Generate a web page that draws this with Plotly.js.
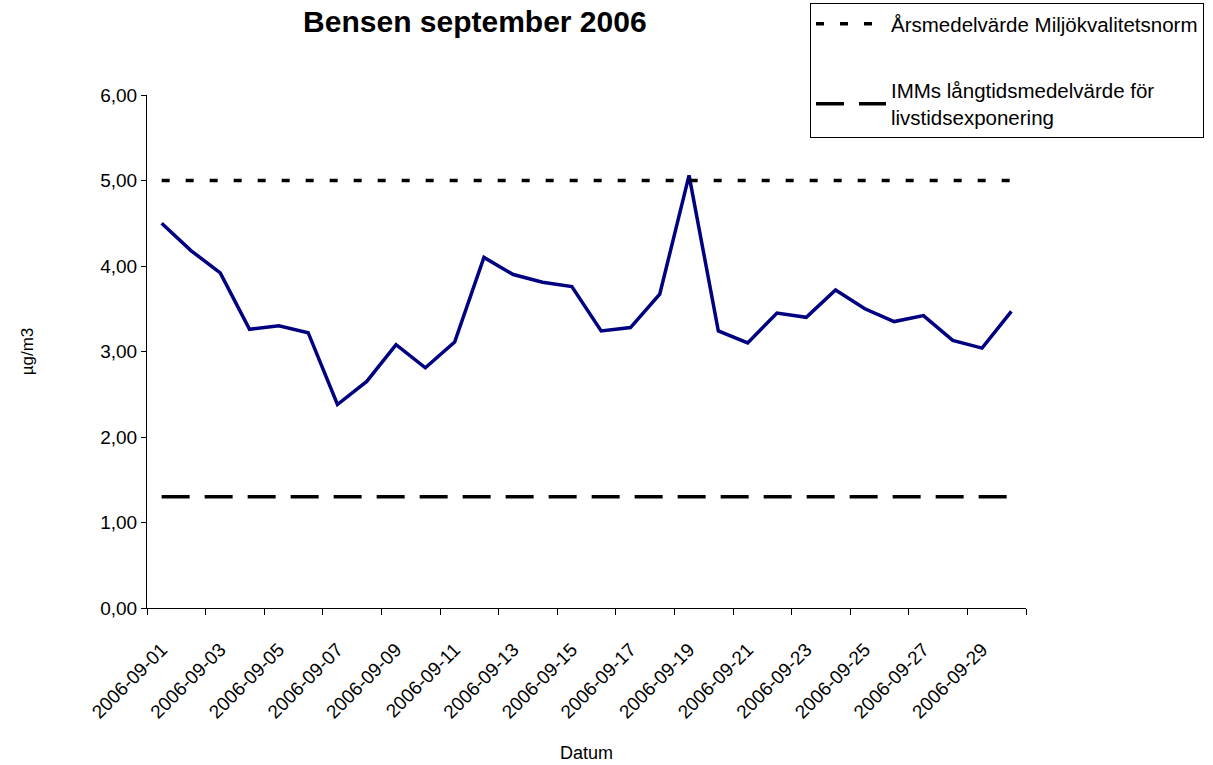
<!DOCTYPE html>
<html>
<head>
<meta charset="utf-8">
<script src="https://cdn.plot.ly/plotly-3.0.1.min.js"></script>
<style>
  html, body { margin: 0; padding: 0; background: #ffffff; }
  #chart { width: 1213px; height: 765px; }
</style>
</head>
<body>
<div id="chart"></div>
<script>
// ---- Data ----
const dates = [
  "2006-09-01","2006-09-02","2006-09-03","2006-09-04","2006-09-05",
  "2006-09-06","2006-09-07","2006-09-08","2006-09-09","2006-09-10",
  "2006-09-11","2006-09-12","2006-09-13","2006-09-14","2006-09-15",
  "2006-09-16","2006-09-17","2006-09-18","2006-09-19","2006-09-20",
  "2006-09-21","2006-09-22","2006-09-23","2006-09-24","2006-09-25",
  "2006-09-26","2006-09-27","2006-09-28","2006-09-29","2006-09-30"
];
const benzene = [
  4.50, 4.18, 3.92, 3.26, 3.30, 3.22, 2.38, 2.65, 3.08, 2.81,
  3.11, 4.10, 3.90, 3.81, 3.76, 3.24, 3.28, 3.67, 5.06, 3.24,
  3.10, 3.45, 3.40, 3.72, 3.50, 3.35, 3.42, 3.13, 3.04, 3.47
];
const normValue = 5.00;   // Årsmedelvärde Miljökvalitetsnorm
const immValue = 1.30;    // IMMs långtidsmedelvärde
const normLabel = "Årsmedelvärde Miljökvalitetsnorm";
const immLabel = "IMMs långtidsmedelvärde för<br>livstidsexponering";
const yTicks = [0, 1, 2, 3, 4, 5, 6];

const FONT = "Liberation Sans, Arial, sans-serif";
const firstDate = dates[0];
const lastDate = dates[dates.length - 1];

const traces = [
  {
    x: dates, y: benzene, type: "scatter", mode: "lines",
    line: { color: "#000080", width: 3.5 },
    showlegend: false, name: "Bensen"
  },
  {
    x: [firstDate, lastDate], y: [normValue, normValue],
    type: "scatter", mode: "lines", name: normLabel,
    line: { color: "#000000", width: 3.5, dash: "8px,16px" },
    legendgroup: "a"
  },
  {
    x: [firstDate, lastDate], y: [immValue, immValue],
    type: "scatter", mode: "lines", name: immLabel,
    line: { color: "#000000", width: 3.5, dash: "28px,15px" },
    legendgroup: "b"
  }
];

const layout = {
  width: 1213, height: 765,
  paper_bgcolor: "#ffffff", plot_bgcolor: "#ffffff",
  font: { family: FONT, size: 18, color: "#000000" },
  separators: ", ",
  margin: { l: 147, r: 187, t: 95, b: 157, pad: 0, autoexpand: false },
  title: {
    text: "<b>Bensen september 2006</b>",
    font: { family: FONT, size: 30, color: "#000000" },
    xref: "paper", x: 0.373, xanchor: "center",
    yref: "container", y: 1 - 21 / 765, yanchor: "middle"
  },
  xaxis: {
    type: "category",
    range: [-0.5, dates.length - 0.5],
    tickmode: "linear", tick0: 0, dtick: 2,
    tickson: "boundaries",
    ticks: "outside", ticklen: 6, tickwidth: 1, tickcolor: "#000000",
    tickangle: -45,
    ticklabelstandoff: 22,
    tickfont: { family: FONT, size: 19, color: "#000000" },
    showline: true, linecolor: "#000000", linewidth: 1,
    showgrid: false, zeroline: false,
    automargin: false,
    title: { text: "Datum", font: { family: FONT, size: 18 }, standoff: 24 }
  },
  yaxis: {
    range: [0, 6],
    tickmode: "array", tickvals: yTicks,
    tickformat: ".2f",
    ticks: "outside", ticklen: 5, tickwidth: 1, tickcolor: "#000000",
    tickfont: { family: FONT, size: 19, color: "#000000" },
    showline: true, linecolor: "#000000", linewidth: 1,
    showgrid: false, zeroline: false,
    automargin: false,
    title: { text: "µg/m3", font: { family: FONT, size: 17 }, standoff: 62 }
  },
  legend: {
    x: (810 - 147) / 879, xanchor: "left",
    y: 1 - 3 / 765, yanchor: "top",
    xref: "paper", yref: "container",
    bgcolor: "#ffffff", bordercolor: "#000000", borderwidth: 1,
    font: { family: FONT, size: 20.5, color: "#000000" },
    traceorder: "grouped", tracegroupgap: 37,
    itemwidth: 70
  },
  showlegend: true
};

Plotly.newPlot("chart", traces, layout, { displayModeBar: false, staticPlot: true });
</script>
</body>
</html>
